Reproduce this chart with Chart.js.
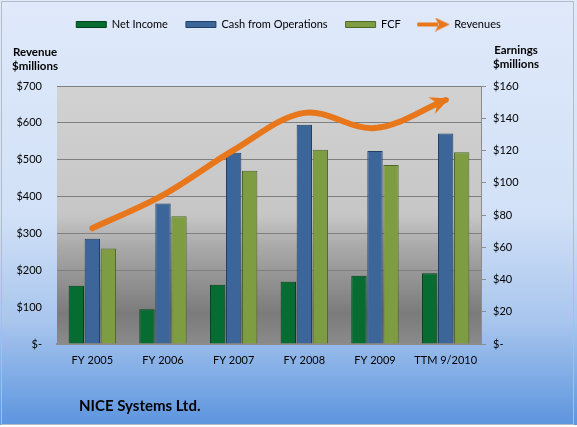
<!DOCTYPE html>
<html>
<head>
<meta charset="utf-8">
<script src="https://cdn.jsdelivr.net/npm/chart.js@4.4.0/dist/chart.umd.min.js"></script>
<style>
  html, body { margin: 0; padding: 0; background: #fff; }
  #wrap { width: 577px; height: 427px; position: relative; }
</style>
</head>
<body>
<div id="wrap"><canvas id="chart" width="577" height="427"></canvas></div>
<script>
const categories = ['FY 2005', 'FY 2006', 'FY 2007', 'FY 2008', 'FY 2009', 'TTM 9/2010'];
const netIncome = [36.2, 21.5, 36.8, 38.6, 42.4, 43.8];
const cashFromOps = [65.3, 87.2, 118.6, 136.0, 119.7, 130.6];
const fcf = [59.3, 79.2, 107.5, 120.5, 111.0, 118.9];
const revenues = [314, 404, 526, 627, 586, 662];

const FONT = 'Lato, "Open Sans", sans-serif';

// arrow picture for the Revenues legend entry
function arrowIcon() {
  const c = document.createElement('canvas');
  c.width = 34; c.height = 14;
  const g = c.getContext('2d');
  g.fillStyle = '#e8761b';
  g.fillRect(1, 5, 20, 4);
  g.beginPath();
  g.arc(2, 7, 2, 0, Math.PI * 2);
  g.fill();
  g.beginPath();
  g.moveTo(33, 7);
  g.lineTo(18, 0);
  g.lineTo(22, 7);
  g.lineTo(18, 14);
  g.closePath();
  g.fill();
  return c;
}

const backgrounds = {
  id: 'backgrounds',
  beforeDraw(chart) {
    const ctx = chart.ctx, a = chart.chartArea;
    ctx.save();
    let g = ctx.createLinearGradient(0, 0, 0, chart.height);
    g.addColorStop(0, '#dfe9fa');
    g.addColorStop(0.5, '#d2e1f7');
    g.addColorStop(0.75, '#a9c6ee');
    g.addColorStop(1, '#5b94de');
    ctx.fillStyle = g;
    ctx.fillRect(0, 0, chart.width, chart.height);
    ctx.strokeStyle = '#b4bcc8';
    ctx.lineWidth = 1;
    ctx.strokeRect(1.5, 1.5, chart.width - 5, chart.height - 4);
    ctx.fillStyle = '#ffffff';
    ctx.fillRect(0, chart.height - 2, chart.width, 2);
    g = ctx.createLinearGradient(0, a.top, 0, a.bottom);
    g.addColorStop(0, '#d2d2d2');
    g.addColorStop(0.5, '#c6c6c6');
    g.addColorStop(0.62, '#aaaaaa');
    g.addColorStop(0.88, '#7b7b7b');
    g.addColorStop(1, '#8a8a8a');
    ctx.fillStyle = g;
    ctx.fillRect(a.left, a.top, a.right - a.left, a.bottom - a.top);
    ctx.restore();
  }
};

const texts = {
  id: 'texts',
  afterDraw(chart) {
    const ctx = chart.ctx;
    ctx.save();
    ctx.fillStyle = '#000';
    ctx.textBaseline = 'middle';
    ctx.textAlign = 'center';
    ctx.font = 'bold 11.5px ' + FONT;
    ctx.fillText('Revenue', 35, 52);
    ctx.fillText('$millions', 35, 66);
    ctx.fillText('Earnings', 516, 50);
    ctx.fillText('$millions', 516, 64);
    ctx.textAlign = 'left';
    ctx.font = 'bold 15px ' + FONT;
    ctx.fillText('NICE Systems Ltd.', 79, 406);
    ctx.restore();
  }
};

const arrowHead = {
  id: 'arrowHead',
  afterDatasetsDraw(chart) {
    const idx = chart.data.datasets.findIndex(d => d.type === 'line');
    const pts = chart.getDatasetMeta(idx).data;
    const last = pts[pts.length - 1];
    const dx = last.x - last.cp1x, dy = last.y - last.cp1y;
    const len = Math.hypot(dx, dy) || 1;
    const ux = dx / len, uy = dy / len;
    const tipX = last.x + ux * 4, tipY = last.y + uy * 4;
    const bx = tipX - ux * 19, by = tipY - uy * 19;
    const ctx = chart.ctx;
    ctx.save();
    ctx.fillStyle = '#e8761b';
    ctx.beginPath();
    ctx.moveTo(tipX, tipY);
    ctx.lineTo(bx - uy * 9, by + ux * 9);
    ctx.lineTo(tipX - ux * 13, tipY - uy * 13);
    ctx.lineTo(bx + uy * 9, by - ux * 9);
    ctx.closePath();
    ctx.fill();
    ctx.restore();
  }
};

const data = {
  labels: categories,
  datasets: [
    {
      type: 'bar',
      label: 'Net Income',
      data: netIncome,
      yAxisID: 'y1',
      backgroundColor: '#066c31',
      borderColor: '#03401c',
      borderWidth: 1,
      order: 2
    },
    {
      type: 'bar',
      label: 'Cash from Operations',
      data: cashFromOps,
      yAxisID: 'y1',
      backgroundColor: '#3c6699',
      borderColor: '#213f66',
      borderWidth: 1,
      order: 2
    },
    {
      type: 'bar',
      label: 'FCF',
      data: fcf,
      yAxisID: 'y1',
      backgroundColor: '#7e9d42',
      borderColor: '#4f6827',
      borderWidth: 1,
      order: 2
    },
    {
      type: 'line',
      label: 'Revenues',
      data: revenues,
      yAxisID: 'y',
      borderColor: '#e8761b',
      backgroundColor: '#e8761b',
      borderWidth: 6,
      borderCapStyle: 'round',
      tension: 0.35,
      pointRadius: 0,
      fill: false,
      order: 0
    }
  ]
};

const icon = arrowIcon();

const config = {
  data: data,
  options: {
    responsive: false,
    animation: false,
    layout: { padding: { top: 1, left: 0, right: 0, bottom: 0 } },
    datasets: {
      bar: { categoryPercentage: 0.68, barPercentage: 0.96 }
    },
    scales: {
      x: {
        offset: true,
        grid: { display: false, drawTicks: false },
        border: { display: true, color: '#8c8c8c', width: 2 },
        ticks: { color: '#000', font: { family: FONT, size: 11 }, padding: 10 },
        afterFit(s) { s.height = 83; }
      },
      y: {
        position: 'left',
        min: 0,
        max: 700,
        grid: { color: '#7f7f7f', drawTicks: false },
        border: { display: false },
        ticks: {
          stepSize: 100,
          padding: 15,
          color: '#000',
          font: { family: FONT, size: 11 },
          callback: v => v === 0 ? '$-' : '$' + v
        },
        afterFit(s) { s.width = 57; }
      },
      y1: {
        position: 'right',
        min: 0,
        max: 160,
        grid: { drawOnChartArea: false, drawTicks: true, tickLength: 5, color: '#8c8c8c' },
        border: { display: true, color: '#8c8c8c' },
        ticks: {
          stepSize: 20,
          padding: 7,
          color: '#000',
          font: { family: FONT, size: 11 },
          callback: v => v === 0 ? '$-' : '$' + v
        },
        afterFit(s) { s.width = 96; }
      }
    },
    plugins: {
      tooltip: { enabled: false },
      legend: {
        position: 'top',
        labels: {
          usePointStyle: true,
          pointStyleWidth: 30,
          boxHeight: 6,
          padding: 18,
          color: '#000',
          font: { family: FONT, size: 11 },
          generateLabels(chart) {
            const items = Chart.defaults.plugins.legend.labels.generateLabels(chart);
            items.forEach(it => {
              const ds = chart.data.datasets[it.datasetIndex];
              if (ds.type === 'line') {
                it.pointStyle = icon;
              } else {
                it.pointStyle = 'rect';
                it.lineWidth = 1;
              }
            });
            return items;
          },
          sort: (a, b) => a.datasetIndex - b.datasetIndex
        }
      },
      subtitle: {
        display: true,
        text: '',
        weight: 500,
        position: 'top',
        font: { size: 10 },
        padding: { top: 34, bottom: 0 }
      }
    }
  },
  plugins: [backgrounds, arrowHead, texts]
};

const chart = new Chart(document.getElementById('chart'), config);
</script>
</body>
</html>
